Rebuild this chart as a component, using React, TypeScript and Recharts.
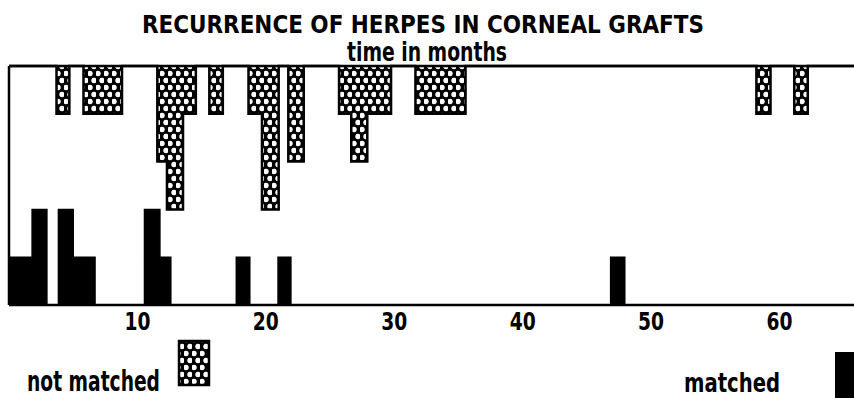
import React from "react";
import { AreaChart, Area, XAxis, YAxis, ReferenceLine } from "recharts";

// Histogram bins: [start month, end month, number of grafts]
const NOT_MATCHED_BINS: [number, number, number][] = [
  [3.7, 4.7, 1],
  [5.8, 8.8, 1],
  [11.55, 12.3, 2],
  [12.3, 13.55, 3],
  [13.55, 14.55, 1],
  [15.6, 16.65, 1],
  [18.65, 19.7, 1],
  [19.7, 21.0, 3],
  [21.75, 22.95, 2],
  [25.7, 26.65, 1],
  [26.65, 27.9, 2],
  [27.9, 29.75, 1],
  [31.65, 35.55, 1],
  [58.2, 59.3, 1],
  [61.15, 62.2, 1],
];

const MATCHED_BINS: [number, number, number][] = [
  [0, 1.8, 1],
  [1.8, 2.95, 2],
  [3.85, 5.0, 2],
  [5.0, 6.7, 1],
  [10.55, 11.75, 2],
  [11.75, 12.6, 1],
  [17.7, 18.75, 1],
  [20.95, 21.95, 1],
  [46.85, 47.95, 1],
];

const MONTH_TICKS = [10, 20, 30, 40, 50, 60];
const X_MAX = 65.8;
const COUNT_MAX = 5;

const TITLE = "RECURRENCE OF HERPES IN CORNEAL GRAFTS";
const SUBTITLE = "time in months";
const LABEL_NOT_MATCHED = "not matched";
const LABEL_MATCHED = "matched";

const FONT = "'DejaVu Sans Condensed', 'DejaVu Sans', sans-serif";

const valueAt = (bins: [number, number, number][], x: number) => {
  const bin = bins.find(([a, b]) => x >= a - 1e-9 && x < b - 1e-9);
  return bin ? bin[2] : 0;
};

// Step points at every bin edge, so both series can share one dataset
const edges = Array.from(
  new Set([
    0,
    X_MAX,
    ...NOT_MATCHED_BINS.flatMap(([a, b]) => [a, b]),
    ...MATCHED_BINS.flatMap(([a, b]) => [a, b]),
  ])
).sort((p, q) => p - q);

const data = edges.map((month) => ({
  month,
  notMatched: valueAt(NOT_MATCHED_BINS, month),
  matched: valueAt(MATCHED_BINS, month),
}));

const MonthTick = (props: any) => {
  const { x, payload } = props;
  return (
    <text
      x={x}
      y={330}
      textAnchor="middle"
      fontSize={25}
      fontWeight="bold"
      fontFamily={FONT}
      fill="#000"
      textLength={26}
      lengthAdjust="spacingAndGlyphs"
    >
      {payload.value}
    </text>
  );
};

export default function App() {
  return (
    <div style={{ position: "absolute", left: 0, top: 0, width: 854, height: 398, background: "#fff", overflow: "hidden" }}>
      <AreaChart
        width={854}
        height={398}
        data={data}
        margin={{ top: 66, right: 0, bottom: 0, left: 9 }}
      >
        <defs>
          <pattern id="stipple" patternUnits="userSpaceOnUse" width="8" height="14">
            <rect x="0" y="0" width="8" height="14" fill="#000" />
            <circle cx="2" cy="3.5" r="2.7" fill="#fff" />
            <circle cx="6" cy="10.5" r="2.7" fill="#fff" />
          </pattern>
        </defs>

        <XAxis
          dataKey="month"
          type="number"
          domain={[0, X_MAX]}
          ticks={MONTH_TICKS}
          tick={<MonthTick />}
          tickLine={false}
          axisLine={{ stroke: "#000", strokeWidth: 2.5 }}
          height={93}
          allowDataOverflow
        />
        <YAxis yAxisId="m" type="number" domain={[0, COUNT_MAX]} hide />
        <YAxis yAxisId="nm" type="number" domain={[0, COUNT_MAX]} reversed hide />

        <Area
          yAxisId="nm"
          type="stepAfter"
          dataKey="notMatched"
          stroke="#000"
          strokeWidth={2.5}
          fill="url(#stipple)"
          fillOpacity={1}
          dot={false}
          activeDot={false}
          isAnimationActive={false}
        />
        <Area
          yAxisId="m"
          type="stepAfter"
          dataKey="matched"
          stroke="#000"
          strokeWidth={1.5}
          fill="#000"
          fillOpacity={1}
          dot={false}
          activeDot={false}
          isAnimationActive={false}
        />

        <ReferenceLine yAxisId="m" y={COUNT_MAX} stroke="#000" strokeWidth={2.5} />
        <ReferenceLine yAxisId="m" x={0} stroke="#000" strokeWidth={2.5} />

        <text
          x={142}
          y={33}
          fontSize={25}
          fontWeight="bold"
          fontFamily={FONT}
          fill="#000"
          textLength={562}
          lengthAdjust="spacingAndGlyphs"
        >
          {TITLE}
        </text>
        <text
          x={347}
          y={61}
          fontSize={27}
          fontWeight="bold"
          fontFamily={FONT}
          fill="#000"
          textLength={160}
          lengthAdjust="spacingAndGlyphs"
        >
          {SUBTITLE}
        </text>

        <text
          x={27}
          y={391}
          fontSize={28}
          fontWeight="bold"
          fontFamily={FONT}
          fill="#000"
          textLength={133}
          lengthAdjust="spacingAndGlyphs"
        >
          {LABEL_NOT_MATCHED}
        </text>
        <rect x={179} y={341} width={30} height={44} fill="url(#stipple)" stroke="#000" strokeWidth={2.5} />

        <text
          x={684}
          y={392}
          fontSize={26}
          fontWeight="bold"
          fontFamily={FONT}
          fill="#000"
          textLength={96}
          lengthAdjust="spacingAndGlyphs"
        >
          {LABEL_MATCHED}
        </text>
        <rect x={835} y={352} width={30} height={60} fill="#000" />
      </AreaChart>
    </div>
  );
}
